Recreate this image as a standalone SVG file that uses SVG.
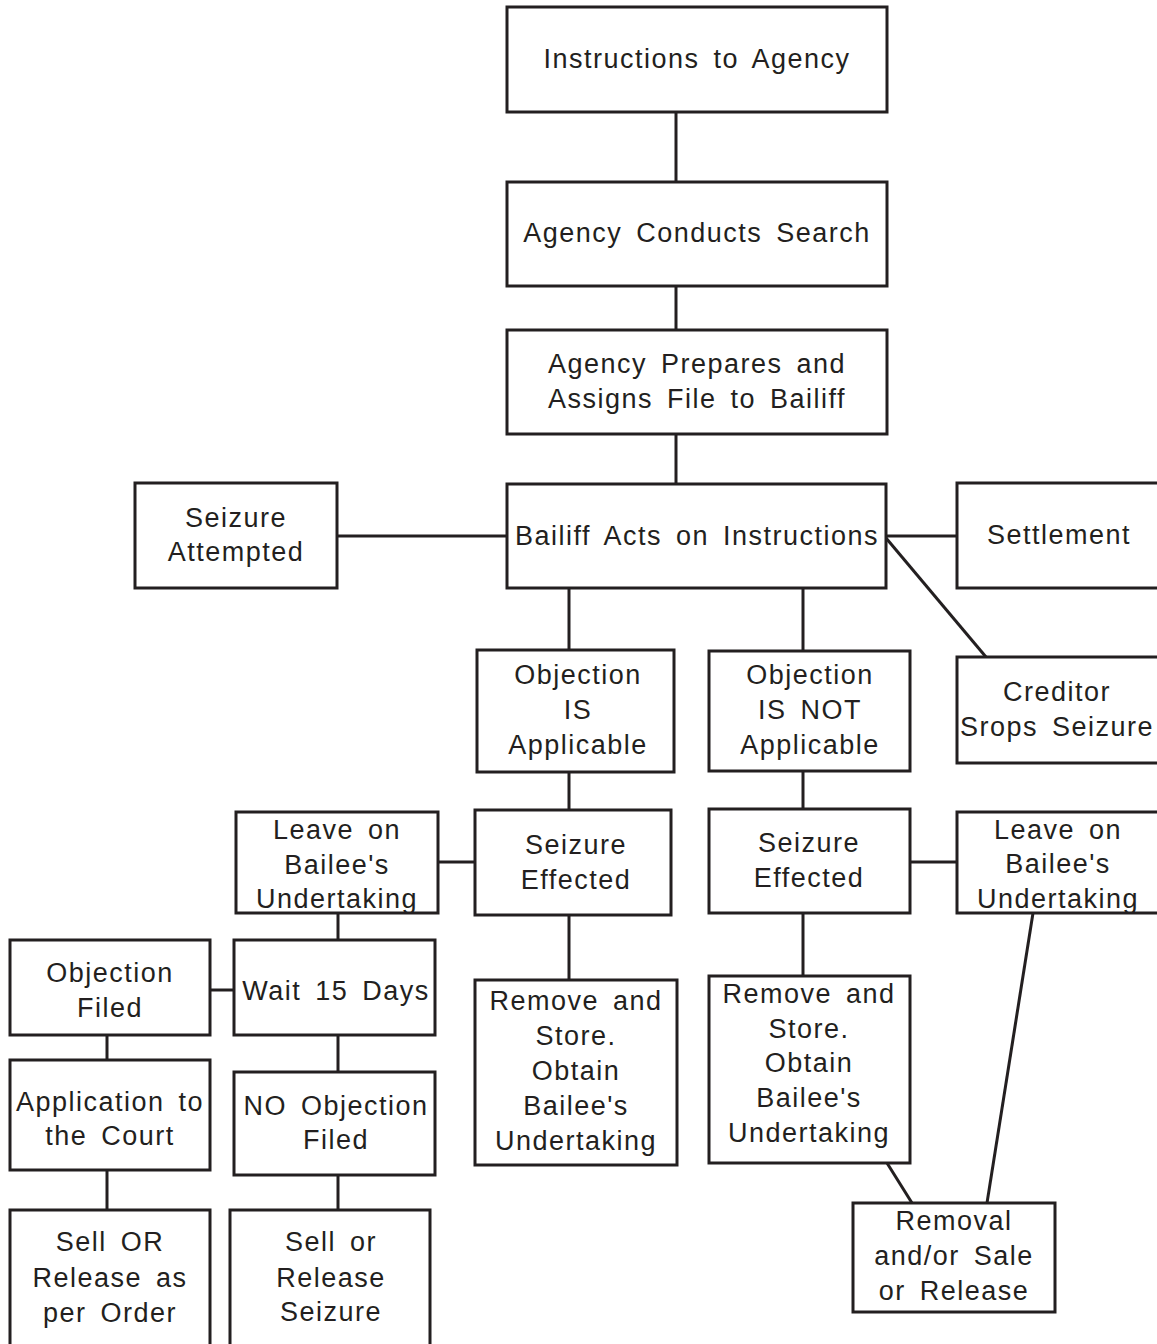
<svg xmlns="http://www.w3.org/2000/svg" width="1157" height="1344" viewBox="0 0 1157 1344">
<style>
.b{fill:#fff;stroke:#231f20;stroke-width:3}
.c line{stroke:#231f20;stroke-width:3}
text{font-family:"Liberation Sans",Arial,sans-serif;font-size:27px;fill:#231f20;text-anchor:middle;letter-spacing:1.5px;word-spacing:5px}
</style>
<rect width="1157" height="1344" fill="#fff"/>
<g class="c" id="connectors">
<line x1="676" y1="112" x2="676" y2="182"/>
<line x1="676" y1="286" x2="676" y2="330"/>
<line x1="676" y1="434" x2="676" y2="484"/>
<line x1="337" y1="536" x2="507" y2="536"/>
<line x1="886" y1="536" x2="957" y2="536"/>
<line x1="886" y1="538" x2="986" y2="657"/>
<line x1="569" y1="588" x2="569" y2="650"/>
<line x1="803" y1="588" x2="803" y2="651"/>
<line x1="569" y1="772" x2="569" y2="810"/>
<line x1="803" y1="771" x2="803" y2="809"/>
<line x1="438" y1="862" x2="475" y2="862"/>
<line x1="910" y1="862" x2="957" y2="862"/>
<line x1="338" y1="913" x2="338" y2="940"/>
<line x1="210" y1="990" x2="234" y2="990"/>
<line x1="107" y1="1035" x2="107" y2="1060"/>
<line x1="107" y1="1170" x2="107" y2="1210"/>
<line x1="338" y1="1035" x2="338" y2="1072"/>
<line x1="338" y1="1175" x2="338" y2="1210"/>
<line x1="569" y1="915" x2="569" y2="980"/>
<line x1="803" y1="913" x2="803" y2="976"/>
<line x1="887" y1="1163" x2="912" y2="1203"/>
<line x1="1033" y1="913" x2="987" y2="1203"/>
</g>
<g id="n1"><rect class="b" x="507" y="7" width="380" height="105"/><text x="697" y="68">Instructions to Agency</text></g>
<g id="n2"><rect class="b" x="507" y="182" width="380" height="104"/><text x="697" y="242">Agency Conducts Search</text></g>
<g id="n3"><rect class="b" x="507" y="330" width="380" height="104"/><text x="697" y="373">Agency Prepares and</text><text x="697" y="408">Assigns File to Bailiff</text></g>
<g id="n4"><rect class="b" x="507" y="484" width="379" height="104"/><text x="697" y="545">Bailiff Acts on Instructions</text></g>
<g id="n5"><rect class="b" x="135" y="483" width="202" height="105"/><text x="236" y="527">Seizure</text><text x="236" y="561">Attempted</text></g>
<g id="n6"><rect class="b" x="957" y="483" width="210" height="105"/><text x="1059" y="544">Settlement</text></g>
<g id="n7"><rect class="b" x="957" y="657" width="210" height="106"/><text x="1057" y="701">Creditor</text><text x="1057" y="736">Srops Seizure</text></g>
<g id="n8"><rect class="b" x="477" y="650" width="197" height="122"/><text x="578" y="684">Objection</text><text x="578" y="719">IS</text><text x="578" y="754">Applicable</text></g>
<g id="n9"><rect class="b" x="709" y="651" width="201" height="120"/><text x="810" y="684">Objection</text><text x="810" y="719">IS NOT</text><text x="810" y="754">Applicable</text></g>
<g id="n10"><rect class="b" x="475" y="810" width="196" height="105"/><text x="576" y="854">Seizure</text><text x="576" y="889">Effected</text></g>
<g id="n11"><rect class="b" x="709" y="809" width="201" height="104"/><text x="809" y="852">Seizure</text><text x="809" y="887">Effected</text></g>
<g id="n12"><rect class="b" x="236" y="812" width="202" height="101"/><text x="337" y="839">Leave on</text><text x="337" y="874">Bailee's</text><text x="337" y="908">Undertaking</text></g>
<g id="n13"><rect class="b" x="957" y="812" width="210" height="101"/><text x="1058" y="839">Leave on</text><text x="1058" y="873">Bailee's</text><text x="1058" y="908">Undertaking</text></g>
<g id="n14"><rect class="b" x="10" y="940" width="200" height="95"/><text x="110" y="982">Objection</text><text x="110" y="1017">Filed</text></g>
<g id="n15"><rect class="b" x="234" y="940" width="201" height="95"/><text x="336" y="1000">Wait 15 Days</text></g>
<g id="n16"><rect class="b" x="10" y="1060" width="200" height="110"/><text x="110" y="1111">Application to</text><text x="110" y="1145">the Court</text></g>
<g id="n17"><rect class="b" x="234" y="1072" width="201" height="103"/><text x="336" y="1115">NO Objection</text><text x="336" y="1149">Filed</text></g>
<g id="n18"><rect class="b" x="10" y="1210" width="200" height="150"/><text x="110" y="1251">Sell OR</text><text x="110" y="1287">Release as</text><text x="110" y="1322">per Order</text></g>
<g id="n19"><rect class="b" x="230" y="1210" width="200" height="150"/><text x="331" y="1251">Sell or</text><text x="331" y="1287">Release</text><text x="331" y="1321">Seizure</text></g>
<g id="n20"><rect class="b" x="475" y="980" width="202" height="185"/><text x="576" y="1010">Remove and</text><text x="576" y="1045">Store.</text><text x="576" y="1080">Obtain</text><text x="576" y="1115">Bailee's</text><text x="576" y="1150">Undertaking</text></g>
<g id="n21"><rect class="b" x="709" y="976" width="201" height="187"/><text x="809" y="1003">Remove and</text><text x="809" y="1038">Store.</text><text x="809" y="1072">Obtain</text><text x="809" y="1107">Bailee's</text><text x="809" y="1142">Undertaking</text></g>
<g id="n22"><rect class="b" x="853" y="1203" width="202" height="109"/><text x="954" y="1230">Removal</text><text x="954" y="1265">and/or Sale</text><text x="954" y="1300">or Release</text></g>
</svg>
